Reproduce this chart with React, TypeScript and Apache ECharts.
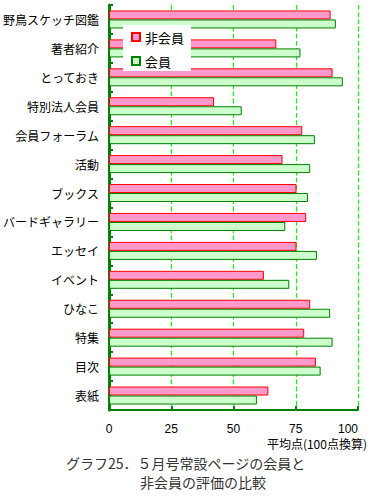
import React, { useEffect, useRef } from "react";
import * as echarts from "echarts";

const categories = [
  "野鳥スケッチ図鑑",
  "著者紹介",
  "とっておき",
  "特別法人会員",
  "会員フォーラム",
  "活動",
  "ブックス",
  "バードギャラリー",
  "エッセイ",
  "イベント",
  "ひなこ",
  "特集",
  "目次",
  "表紙",
];
const nonMemberValues = [89.0, 67.2, 89.8, 42.2, 77.6, 69.7, 75.3, 79.2, 75.3, 62.2, 80.8, 78.4, 83.1, 64.0];
const memberValues = [91.1, 76.9, 93.9, 53.3, 82.7, 80.8, 79.9, 70.8, 83.5, 72.4, 88.8, 89.8, 85.0, 59.4];
const xTicks = [0, 25, 50, 75, 100];
const seriesNames = ["非会員", "会員"];
const xAxisTitle = "平均点(100点換算)";
const captionLine1 = "グラフ25．５月号常設ページの会員と";
const captionLine2 = "非会員の評価の比較";

const FONT = "'Noto Sans CJK JP', sans-serif";

export default function App() {
  const ref = useRef<HTMLDivElement>(null);
  useEffect(() => {
    if (!ref.current) return;
    const chart = echarts.init(ref.current, null, { renderer: "svg" });
    chart.setOption({
      animation: false,
      backgroundColor: "#ffffff",
      textStyle: { fontFamily: FONT },
      grid: { left: 106, right: 13, top: 5, bottom: 86, containLabel: false },
      legend: {
        orient: "vertical",
        left: 123,
        top: 25,
        backgroundColor: "#ffffff",
        padding: [4, 7, 2, 8],
        itemWidth: 8,
        itemHeight: 8,
        itemGap: 8,
        itemTextGap: 5,
        icon: "rect",
        textStyle: { fontSize: 13, lineHeight: 16, color: "#000", fontFamily: FONT },
        data: seriesNames,
      },
      xAxis: {
        type: "value",
        min: xTicks[0],
        max: xTicks[xTicks.length - 1],
        interval: 25,
        axisLine: { show: true, lineStyle: { color: "#008000", width: 2 } },
        axisTick: { show: true, inside: true, length: 4, lineStyle: { color: "#008000", width: 2 } },
        axisLabel: {
          margin: 13,
          fontSize: 12,
          lineHeight: 12,
          color: "#000",
          fontFamily: "'Liberation Sans', sans-serif",
          alignMaxLabel: "right",
        },
        splitLine: {
          show: true,
          lineStyle: { color: "#00ff00", type: "dashed", dashOffset: 0, width: 1.2 },
        },
      },
      yAxis: {
        type: "category",
        data: categories,
        inverse: true,
        axisLine: { show: true, lineStyle: { color: "#008000", width: 3 } },
        axisTick: { show: true, inside: true, length: 4, lineStyle: { color: "#008000", width: 2 } },
        axisLabel: { margin: 10, fontSize: 12, color: "#000", fontFamily: FONT },
        splitLine: { show: false },
      },
      series: [
        {
          name: seriesNames[0],
          type: "bar",
          data: nonMemberValues,
          barWidth: 9,
          barGap: "0%",
          itemStyle: { color: "#ff99cc", borderColor: "#ff0000", borderWidth: 1 },
        },
        {
          name: seriesNames[1],
          type: "bar",
          data: memberValues,
          barWidth: 9,
          barGap: "0%",
          itemStyle: { color: "#ccffcc", borderColor: "#008000", borderWidth: 1 },
        },
      ],
      graphic: [
        {
          type: "text",
          right: 4,
          top: 437,
          style: { text: xAxisTitle, fontSize: 12, lineHeight: 12, fill: "#000", fontFamily: FONT },
        },
        {
          type: "text",
          left: 66,
          top: 455,
          style: { text: captionLine1, fontSize: 14, lineHeight: 16, fill: "#333", fontFamily: FONT },
        },
        {
          type: "text",
          left: 140,
          top: 474,
          style: { text: captionLine2, fontSize: 14, lineHeight: 16, fill: "#333", fontFamily: FONT },
        },
      ],
    });
    return () => chart.dispose();
  }, []);
  return (
    <div
      ref={ref}
      style={{ position: "fixed", left: 0, top: 0, width: 371, height: 496 }}
    />
  );
}
